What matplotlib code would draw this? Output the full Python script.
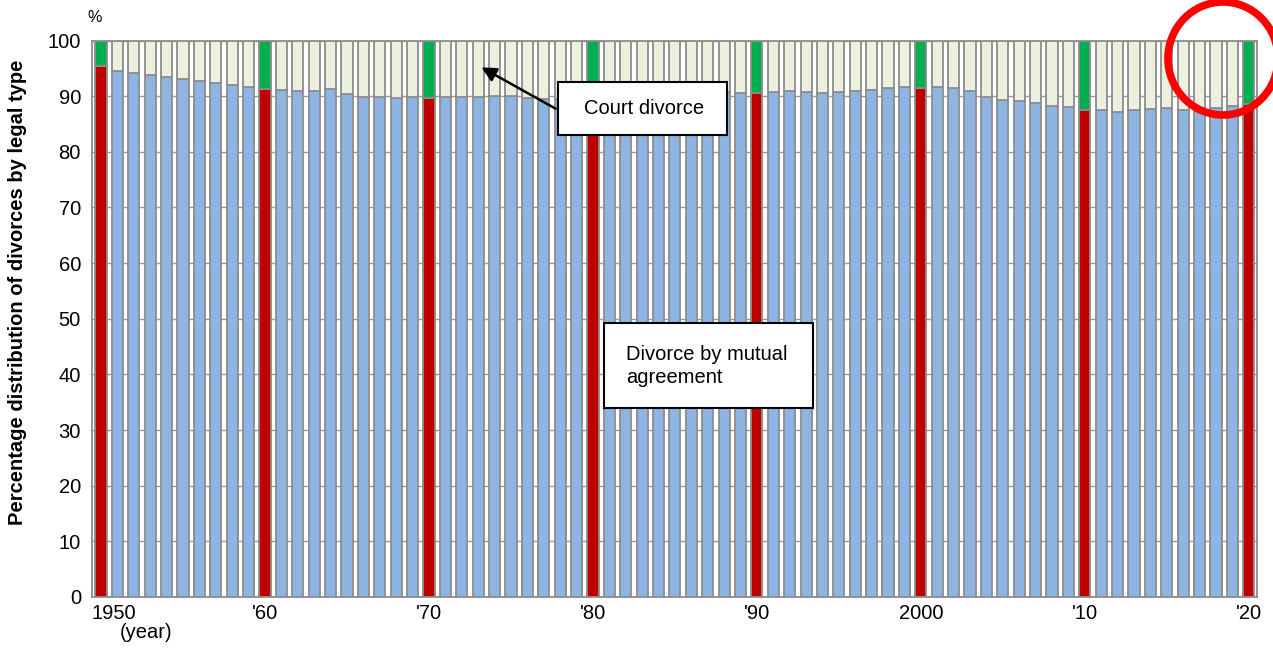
import numpy as np
import matplotlib
matplotlib.use("Agg")
import matplotlib.pyplot as plt
from matplotlib.patches import Ellipse, Rectangle
from matplotlib.transforms import ScaledTranslation

plt.rcParams['font.family'] = ['Liberation Sans', 'DejaVu Sans']

years = list(range(1950, 2021))
mutual = [95.5, 94.6, 94.1, 93.8, 93.5, 93.1, 92.8, 92.3, 92.0, 91.6,
          91.2, 91.1, 90.9, 90.9, 91.2, 90.4, 89.9, 89.9, 89.7, 89.9,
          89.7, 89.9, 89.9, 89.9, 90.0, 90.0, 89.6, 89.4, 89.5, 89.8,
          89.9, 90.0, 90.1, 90.1, 90.3, 90.6, 90.8, 90.9, 90.7, 90.6,
          90.5, 90.8, 91.0, 90.7, 90.6, 90.7, 91.0, 91.1, 91.4, 91.6,
          91.5, 91.6, 91.4, 90.9, 89.9, 89.3, 89.1, 88.7, 88.2, 88.1,
          87.6, 87.6, 87.2, 87.5, 87.7, 87.9, 87.5, 87.5, 87.8, 88.2,
          88.6]
court = [100 - m for m in mutual]

tick_years = [1950, 1960, 1970, 1980, 1990, 2000, 2010, 2020]
tick_labels = ['1950', "'60", "'70", "'80", "'90", '2000', "'10", "'20"]
yticks = list(range(0, 101, 10))

W, H = 1273, 648
fig = plt.figure(figsize=(W / 100, H / 100), dpi=100)
ax = fig.add_axes([92 / W, 1 - 597 / H, (1257 - 92) / W, (597 - 40.5) / H])

blue, beige, red, green = '#8DB4E2', '#EBF1DE', '#C00000', '#00B050'
edge = '#8C8C8C'
mcol = [red if y % 10 == 0 else blue for y in years]
ccol = [green if y % 10 == 0 else beige for y in years]

ax.bar(years, mutual, width=0.68, color=mcol, edgecolor=edge, linewidth=1.3, zorder=2)
ax.bar(years, court, bottom=mutual, width=0.68, color=ccol, edgecolor=edge, linewidth=1.3, zorder=2)

FS = 14.5
ax.set_xlim(1949.45, 2020.5)
ax.set_ylim(0, 100)
ax.set_yticks(yticks)
ax.set_yticklabels([str(v) for v in yticks], fontsize=FS)
ax.set_xticks(tick_years)
ax.set_xticklabels(tick_labels, fontsize=FS)
ax.tick_params(axis='both', length=0, colors='black')
ax.tick_params(axis='y', pad=8)
ax.tick_params(axis='x', pad=5)
first = ax.get_xticklabels()[0]
first.set_transform(first.get_transform() + ScaledTranslation(13 / 100, 0, fig.dpi_scale_trans))

ax.yaxis.grid(True, color='#999999', linewidth=1.0, zorder=0)
ax.set_axisbelow(True)
for s in ax.spines.values():
    s.set_color(edge)
    s.set_linewidth(1.3)

fig.text(146 / W, 1 - 632 / H, '(year)', ha='center', va='center', fontsize=FS)
fig.text(95 / W, 1 - 17 / H, '%', ha='center', va='center', fontsize=11.5)
fig.text(18 / W, 1 - 292 / H, 'Percentage distribution of divorces by legal type',
         rotation=90, ha='center', va='center', fontsize=14.5, fontweight='bold')

def fx(px):
    return px / W

def fy(py):
    return 1 - py / H

def px2data(px, py):
    return ax.transData.inverted().transform(fig.transFigure.transform((fx(px), fy(py))))

# arrow to court divorce segment
ax.annotate('', xy=px2data(479, 66), xytext=px2data(558, 110),
            arrowprops=dict(arrowstyle='-|>', color='black', lw=1.8, mutation_scale=22),
            zorder=5)

# boxes
for (x0, y0, x1, y1) in [(558, 82, 727, 135), (604, 323, 813, 408)]:
    fig.add_artist(Rectangle((fx(x0), fy(y1)), (x1 - x0) / W, (y1 - y0) / H,
                             transform=fig.transFigure, fc='white', ec='black', lw=1.5,
                             zorder=6))
fig.text(fx(644), fy(109), 'Court divorce', ha='center', va='center', fontsize=FS, zorder=7)
fig.text(fx(626), fy(366), 'Divorce by mutual\nagreement', ha='left', va='center',
         fontsize=FS, zorder=7, linespacing=1.3)

fig.add_artist(Ellipse((1223 / W, 1 - 58.5 / H), 110 / W, 113 / H,
                       transform=fig.transFigure, fill=False, ec='#FF0000', lw=5.5, zorder=8))

fig.savefig('out.png', dpi=100)
